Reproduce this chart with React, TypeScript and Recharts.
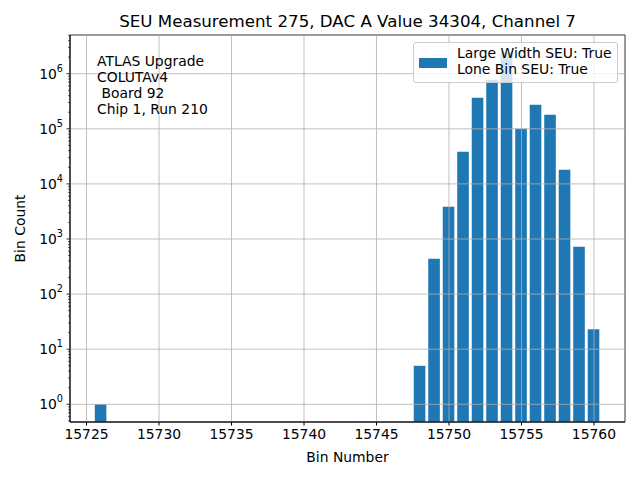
import React from "react";
import {
  BarChart,
  Bar,
  XAxis,
  YAxis,
  Legend,
  ReferenceLine,
  ReferenceArea,
} from "recharts";

const bins = [15726, 15748, 15749, 15750, 15751, 15752, 15753, 15754, 15755, 15756, 15757, 15758, 15759, 15760];
const counts = [1, 5, 440, 3840, 38300, 366000, 778000, 2440000, 100000, 274000, 180000, 18000, 721, 23];

const xTicks = [15725, 15730, 15735, 15740, 15745, 15750, 15755, 15760];
const yMajor = [1, 10, 100, 1000, 10000, 100000, 1000000];
const yDomain = [0.477, 5.04e6];

const title = "SEU Measurement 275, DAC A Value 34304, Channel 7";
const seriesName = "Large Width SEU: True\nLone Bin SEU: True";
const noteLines = ["ATLAS Upgrade", "COLUTAv4", " Board 92", "Chip 1, Run 210"];

const FONT = "DejaVu Sans";
const BLUE = "#1f77b4";
const W = 640;
const H = 480;
const M = { top: 35, right: 15, left: 0, bottom: 0 };
const Y_W = 70;
const X_H = 58;

// matplotlib style 5% margins around bars of width 0.8
const lo = Math.min(...bins) - 0.4;
const hi = Math.max(...bins) + 0.4;
const pad = (hi - lo) * 0.05;
const xDomain = [lo - pad, hi + pad];
const plotW = W - M.left - M.right - Y_W;
const barSize = (plotW / (xDomain[1] - xDomain[0])) * 0.8;

const data = bins.map((bin, i) => ({ bin, count: counts[i] }));

// major + minor log ticks
const yTicks: number[] = [];
for (let k = -1; k <= 6; k++) {
  for (let m = 1; m <= 9; m++) {
    const v = m * Math.pow(10, k);
    if (v >= yDomain[0] && v <= yDomain[1]) yTicks.push(v);
  }
}

function YTick(props: any) {
  const { x, y, payload } = props;
  const v = payload.value;
  const e = Math.log10(v);
  const major = Math.abs(e - Math.round(e)) < 1e-6;
  const axisX = x + 7;
  return (
    <g>
      <line x1={axisX - (major ? 3.5 : 2)} x2={axisX} y1={y} y2={y} stroke="#000" strokeWidth={major ? 0.8 : 0.6} />
      {major && (
        <text x={x} y={y + 5} textAnchor="end" fontFamily={FONT} fontSize={13.9} fill="#000">
          10
          <tspan dy={-7} fontSize={9.7}>{Math.round(e)}</tspan>
        </text>
      )}
    </g>
  );
}

function LegendBox(props: any) {
  const item = props.payload && props.payload[0];
  const label = item ? String(item.value) : seriesName;
  return (
    <div
      style={{
        boxSizing: "border-box",
        width: 205,
        height: 41,
        position: "relative",
        background: "rgba(255,255,255,0.8)",
        border: "1px solid #cccccc",
        borderRadius: 3,
        fontFamily: FONT,
        fontSize: 13.9,
        color: "#000",
      }}
    >
      <div style={{ position: "absolute", left: 5, top: 15.3, width: 28, height: 9.7, background: BLUE }} />
      <div style={{ position: "absolute", left: 43, top: 2.3, lineHeight: "16px", whiteSpace: "pre" }}>
        {label}
      </div>
    </div>
  );
}

export default function App() {
  return (
    <div style={{ position: "absolute", left: 0, top: 0, width: W, height: H, background: "#fff", fontFamily: FONT }}>
      <BarChart width={W} height={H} data={data} margin={M}>
        <XAxis
          type="number"
          dataKey="bin"
          domain={xDomain}
          allowDataOverflow
          ticks={xTicks}
          interval={0}
          height={X_H}
          tickSize={3.5}
          tickMargin={3.5}
          stroke="#000"
          tick={{ fill: "#000", fontSize: 13.9, fontFamily: FONT }}
          label={{ value: "Bin Number", position: "insideBottom", offset: 18, fill: "#000", fontSize: 13.9, fontFamily: FONT }}
        />
        <YAxis
          scale="log"
          domain={yDomain}
          allowDataOverflow
          ticks={yTicks}
          interval={0}
          width={Y_W}
          tickSize={3.5}
          tickMargin={3.5}
          tickLine={false}
          stroke="#000"
          tick={YTick}
          label={{
            value: "Bin Count",
            angle: -90,
            position: "insideLeft",
            offset: 20,
            fill: "#000",
            fontSize: 13.9,
            fontFamily: FONT,
            style: { textAnchor: "middle" },
          }}
        />
        <Bar dataKey="count" name={seriesName} fill={BLUE} barSize={barSize} isAnimationActive={false} />
        {yMajor.map((v) => (
          <ReferenceLine key={"y" + v} y={v} stroke="#b0b0b0" strokeWidth={0.8} />
        ))}
        {xTicks.map((v) => (
          <ReferenceLine key={"x" + v} x={v} stroke="#b0b0b0" strokeWidth={0.8} />
        ))}
        <ReferenceArea
          x1={xDomain[0]}
          x2={xDomain[1]}
          y1={yDomain[0]}
          y2={yDomain[1]}
          fill="none"
          fillOpacity={0}
          stroke="#000"
          strokeWidth={0.8}
        />
        <Legend
          layout="vertical"
          align="center"
          verticalAlign="middle"
          wrapperStyle={{ left: 413, top: 42, width: 205, height: 41 }}
          content={LegendBox}
        />
      </BarChart>
      <svg width={W} height={H} style={{ position: "absolute", left: 0, top: 0, pointerEvents: "none" }}>
        <text x={347.6} y={27} textAnchor="middle" fontFamily={FONT} fontSize={16.67} fill="#000">
          {title}
        </text>
        {noteLines.map((s, i) => (
          <text key={i} x={97} y={66 + i * 16} fontFamily={FONT} fontSize={13.9} fill="#000" style={{ whiteSpace: "pre" }}>
            {s}
          </text>
        ))}
      </svg>
    </div>
  );
}
